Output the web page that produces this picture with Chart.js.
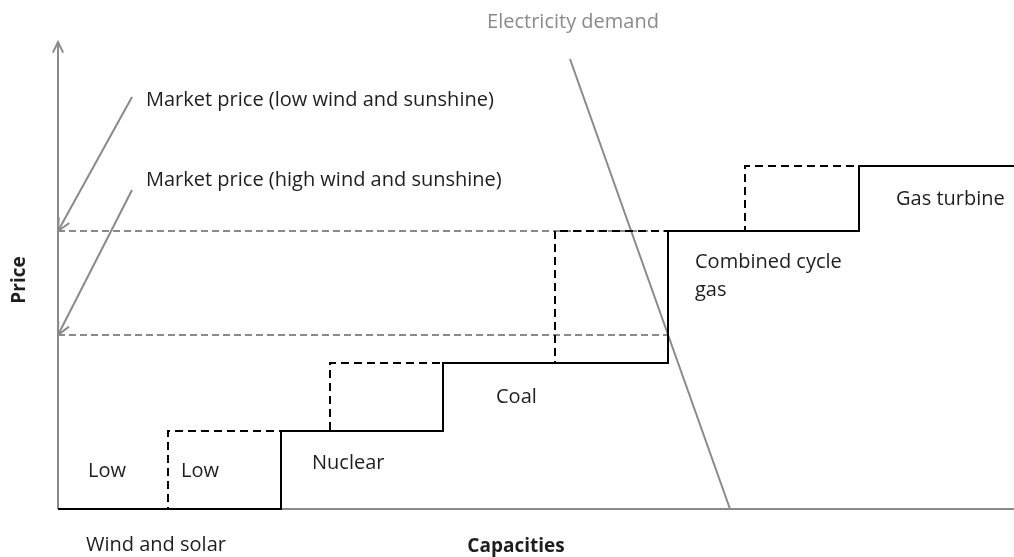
<!DOCTYPE html>
<html>
<head>
<meta charset="utf-8">
<script src="https://cdn.jsdelivr.net/npm/chart.js@4.4.1/dist/chart.umd.min.js"></script>
<style>
  html, body { margin: 0; padding: 0; background: #fff; }
  #wrap { width: 1014px; height: 557px; position: relative; }
</style>
</head>
<body>
<div id="wrap"><canvas id="c"></canvas></div>
<script>
// ---- data (capacity in arbitrary units, price in arbitrary units) ----
const supplyX      = [0, 22.3, 22.3, 38.5, 38.5, 61, 61, 80.1, 80.1, 95.6];
const supplyY      = [0, 0, 7.8, 7.8, 14.6, 14.6, 27.8, 27.8, 34.3, 34.3];
const supplyWindX  = [0, 11, 11, 27.2, 27.2, 49.7, 49.7, 68.7, 68.7, 80.1];
const supplyWindY  = [0, 0, 7.8, 7.8, 14.6, 14.6, 27.8, 27.8, 34.3, 34.3];
const demandX      = [51.2, 67.2];
const demandY      = [45, 0];
const priceLow     = 27.8;   // low wind and sunshine
const priceHigh    = 17.4;   // high wind and sunshine
const priceLineEnd = 61;
const xMax = 95.6, yMax = 46.7;
const arrowLowX  = [7.4, 0], arrowLowY  = [41.2, priceLow];
const arrowHighX = [7.4, 0], arrowHighY = [31.9, priceHigh];

const labels = [
  { text: 'Low', x: 3.0, y: 3.8 },
  { text: 'Low', x: 12.3, y: 3.8 },
  { text: 'Nuclear', x: 25.4, y: 4.6 },
  { text: 'Coal', x: 43.8, y: 11.2 },
  { text: 'Combined cycle', x: 63.7, y: 24.7 },
  { text: 'gas', x: 63.7, y: 21.9 },
  { text: 'Gas turbine', x: 83.8, y: 31.0 },
  { text: 'Market price (low wind and sunshine)', x: 8.8, y: 40.9 },
  { text: 'Market price (high wind and sunshine)', x: 8.8, y: 32.9 },
  { text: 'Wind and solar', x: 2.8, y: -3.6 }
];

const GREY = '#8a8a8a';
const INK = '#1e1e1e';
const FONT = '"Open Sans", sans-serif';

const pts = (xs, ys) => xs.map((x, i) => ({ x, y: ys[i] }));
const line = (data, color, dash, width) => ({
  data, showLine: true, borderColor: color, borderWidth: width || 2,
  borderDash: dash || [], pointRadius: 0, clip: false, tension: 0, fill: false
});

// ---- annotations: arrow heads, texts ----
const deco = {
  id: 'deco',
  afterDatasetsDraw(chart) {
    const { ctx, scales: { x, y } } = chart;
    const px = v => x.getPixelForValue(v), py = v => y.getPixelForValue(v);
    ctx.save();
    ctx.lineWidth = 2;
    ctx.strokeStyle = GREY;
    ctx.lineCap = 'round';

    const head = (x1, y1, x2, y2, len) => {
      const a = Math.atan2(py(y2) - py(y1), px(x2) - px(x1));
      ctx.beginPath();
      ctx.moveTo(px(x2) - len * Math.cos(a - 0.45), py(y2) - len * Math.sin(a - 0.45));
      ctx.lineTo(px(x2), py(y2));
      ctx.lineTo(px(x2) - len * Math.cos(a + 0.45), py(y2) - len * Math.sin(a + 0.45));
      ctx.stroke();
    };
    head(0, 0, 0, yMax, 11);
    head(arrowLowX[0], arrowLowY[0], arrowLowX[1], arrowLowY[1], 13);
    head(arrowHighX[0], arrowHighY[0], arrowHighX[1], arrowHighY[1], 13);

    ctx.fillStyle = INK;
    ctx.font = '20px ' + FONT;
    ctx.textBaseline = 'middle';
    ctx.textAlign = 'left';
    labels.forEach(l => ctx.fillText(l.text, px(l.x), py(l.y)));

    ctx.fillStyle = GREY;
    ctx.textAlign = 'center';
    ctx.fillText('Electricity demand', px(51.5), py(48.7));

    ctx.fillStyle = INK;
    ctx.font = 'bold 19px ' + FONT;
    ctx.fillText('Capacities', px(45.8), py(-3.8));
    ctx.translate(px(-3.8), py(22.9));
    ctx.rotate(-Math.PI / 2);
    ctx.fillText('Price', 0, 0);
    ctx.restore();
  }
};

// first dataset is drawn on top
new Chart(document.getElementById('c'), {
  type: 'scatter',
  data: {
    datasets: [
      line(pts(supplyX, supplyY), '#000'),
      line(pts(supplyWindX, supplyWindY), '#000', [8, 5]),
      line(pts(demandX, demandY), GREY),
      line(pts(arrowLowX, arrowLowY), GREY),
      line(pts(arrowHighX, arrowHighY), GREY),
      line(pts([0, xMax], [0, 0]), GREY),
      line(pts([0, 0], [0, yMax]), GREY),
      line(pts([0, priceLineEnd], [priceLow, priceLow]), GREY, [7, 4]),
      line(pts([0, priceLineEnd], [priceHigh, priceHigh]), GREY, [7, 4])
    ]
  },
  options: {
    responsive: true,
    maintainAspectRatio: false,
    animation: false,
    layout: { padding: { left: 58, right: 0, top: 42, bottom: 48 } },
    scales: {
      x: { type: 'linear', min: 0, max: xMax, display: false },
      y: { type: 'linear', min: 0, max: yMax, display: false }
    },
    plugins: { legend: { display: false }, tooltip: { enabled: false } }
  },
  plugins: [deco]
});
</script>
</body>
</html>
